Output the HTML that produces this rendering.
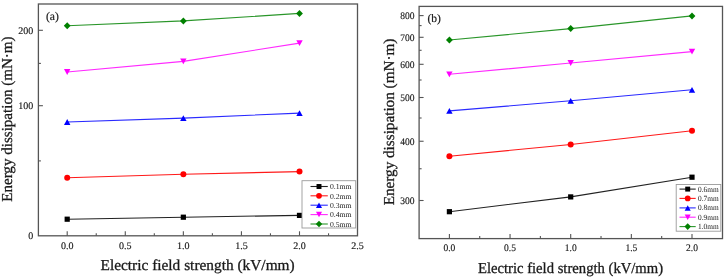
<!DOCTYPE html>
<html><head><meta charset="utf-8"><style>
html,body{margin:0;padding:0;background:#fff;}
body{width:725px;height:280px;overflow:hidden;}
svg{display:block;font-family:"Liberation Serif", serif;text-rendering:geometricPrecision;will-change:transform;}
</style></head><body>
<svg width="725" height="280" viewBox="0 0 725 280">
<rect width="725" height="280" fill="#fff"/>
<path d="M67.20 219.20L183.35 217.20L299.50 215.40" fill="none" stroke="#222222" stroke-width="1.1"/>
<rect x="64.60" y="216.60" width="5.20" height="5.20" fill="#000000"/>
<rect x="180.75" y="214.60" width="5.20" height="5.20" fill="#000000"/>
<rect x="296.90" y="212.80" width="5.20" height="5.20" fill="#000000"/>
<path d="M67.20 177.80L183.35 174.30L299.50 171.60" fill="none" stroke="#ff1a1a" stroke-width="1.1"/>
<circle cx="67.20" cy="177.80" r="3.00" fill="#ff0000"/>
<circle cx="183.35" cy="174.30" r="3.00" fill="#ff0000"/>
<circle cx="299.50" cy="171.60" r="3.00" fill="#ff0000"/>
<path d="M67.20 122.00L183.35 118.10L299.50 113.10" fill="none" stroke="#2a2aff" stroke-width="1.1"/>
<path d="M67.20 119.10L70.40 124.90L64.00 124.90Z" fill="#0000ff"/>
<path d="M183.35 115.20L186.55 121.00L180.15 121.00Z" fill="#0000ff"/>
<path d="M299.50 110.20L302.70 116.00L296.30 116.00Z" fill="#0000ff"/>
<path d="M67.20 72.00L183.35 61.40L299.50 43.10" fill="none" stroke="#ff2aff" stroke-width="1.1"/>
<path d="M67.20 74.90L70.40 69.10L64.00 69.10Z" fill="#ff00ff"/>
<path d="M183.35 64.30L186.55 58.50L180.15 58.50Z" fill="#ff00ff"/>
<path d="M299.50 46.00L302.70 40.20L296.30 40.20Z" fill="#ff00ff"/>
<path d="M67.20 25.80L183.35 20.90L299.50 13.40" fill="none" stroke="#2a962a" stroke-width="1.1"/>
<path d="M67.20 22.30L70.60 25.80L67.20 29.30L63.80 25.80Z" fill="#008000"/>
<path d="M183.35 17.40L186.75 20.90L183.35 24.40L179.95 20.90Z" fill="#008000"/>
<path d="M299.50 9.90L302.90 13.40L299.50 16.90L296.10 13.40Z" fill="#008000"/>
<rect x="38.4" y="4.0" width="319.1" height="231.8" fill="none" stroke="#555555" stroke-width="1.3"/>
<line x1="67.20" y1="235.8" x2="67.20" y2="231.3" stroke="#555555" stroke-width="1.1"/>
<line x1="96.24" y1="235.8" x2="96.24" y2="233.3" stroke="#555555" stroke-width="1.1"/>
<line x1="125.28" y1="235.8" x2="125.28" y2="231.3" stroke="#555555" stroke-width="1.1"/>
<line x1="154.31" y1="235.8" x2="154.31" y2="233.3" stroke="#555555" stroke-width="1.1"/>
<line x1="183.35" y1="235.8" x2="183.35" y2="231.3" stroke="#555555" stroke-width="1.1"/>
<line x1="212.39" y1="235.8" x2="212.39" y2="233.3" stroke="#555555" stroke-width="1.1"/>
<line x1="241.43" y1="235.8" x2="241.43" y2="231.3" stroke="#555555" stroke-width="1.1"/>
<line x1="270.46" y1="235.8" x2="270.46" y2="233.3" stroke="#555555" stroke-width="1.1"/>
<line x1="299.50" y1="235.8" x2="299.50" y2="231.3" stroke="#555555" stroke-width="1.1"/>
<line x1="328.54" y1="235.8" x2="328.54" y2="233.3" stroke="#555555" stroke-width="1.1"/>
<line x1="38.4" y1="30.30" x2="42.9" y2="30.30" stroke="#555555" stroke-width="1.1"/>
<line x1="38.4" y1="63.40" x2="40.9" y2="63.40" stroke="#555555" stroke-width="1.1"/>
<line x1="38.4" y1="105.70" x2="42.9" y2="105.70" stroke="#555555" stroke-width="1.1"/>
<line x1="38.4" y1="160.90" x2="40.9" y2="160.90" stroke="#555555" stroke-width="1.1"/>
<text x="67.20" y="248.9" font-size="10" text-anchor="middle" textLength="12.50" lengthAdjust="spacingAndGlyphs" fill="#1a1a1a" stroke="#1a1a1a" stroke-width="0.15">0.0</text>
<text x="125.28" y="248.9" font-size="10" text-anchor="middle" textLength="12.50" lengthAdjust="spacingAndGlyphs" fill="#1a1a1a" stroke="#1a1a1a" stroke-width="0.15">0.5</text>
<text x="183.35" y="248.9" font-size="10" text-anchor="middle" textLength="12.50" lengthAdjust="spacingAndGlyphs" fill="#1a1a1a" stroke="#1a1a1a" stroke-width="0.15">1.0</text>
<text x="241.43" y="248.9" font-size="10" text-anchor="middle" textLength="12.50" lengthAdjust="spacingAndGlyphs" fill="#1a1a1a" stroke="#1a1a1a" stroke-width="0.15">1.5</text>
<text x="299.50" y="248.9" font-size="10" text-anchor="middle" textLength="12.50" lengthAdjust="spacingAndGlyphs" fill="#1a1a1a" stroke="#1a1a1a" stroke-width="0.15">2.0</text>
<text x="357.57" y="248.9" font-size="10" text-anchor="middle" textLength="12.50" lengthAdjust="spacingAndGlyphs" fill="#1a1a1a" stroke="#1a1a1a" stroke-width="0.15">2.5</text>
<text x="33.2" y="33.70" font-size="10" text-anchor="end" textLength="15.00" lengthAdjust="spacingAndGlyphs" fill="#1a1a1a" stroke="#1a1a1a" stroke-width="0.15">200</text>
<text x="33.2" y="109.10" font-size="10" text-anchor="end" textLength="15.00" lengthAdjust="spacingAndGlyphs" fill="#1a1a1a" stroke="#1a1a1a" stroke-width="0.15">100</text>
<text x="33.2" y="238.90" font-size="10" text-anchor="end" textLength="5.00" lengthAdjust="spacingAndGlyphs" fill="#1a1a1a" stroke="#1a1a1a" stroke-width="0.15">0</text>
<text x="46.0" y="20.2" font-size="11.6" fill="#1a1a1a" stroke="#1a1a1a" stroke-width="0.2">(a)</text>
<text x="197.6" y="269.8" font-size="15.2" text-anchor="middle" textLength="194.1" lengthAdjust="spacingAndGlyphs" fill="#1a1a1a" stroke="#1a1a1a" stroke-width="0.3">Electric field strength (kV/mm)</text>
<text transform="translate(12.3 119.1) rotate(-90)" x="0" y="0" font-size="15.2" text-anchor="middle" textLength="165.4" lengthAdjust="spacingAndGlyphs" fill="#1a1a1a" stroke="#1a1a1a" stroke-width="0.3">Energy dissipation (mN&#183;m)</text>
<rect x="302.0" y="180.7" width="53.69999999999999" height="47.30000000000001" fill="#ffffff" stroke="#9a9a9a" stroke-width="0.9"/>
<line x1="310.5" y1="186.5" x2="327.8" y2="186.5" stroke="#222222" stroke-width="1.1"/>
<rect x="316.53" y="184.03" width="4.94" height="4.94" fill="#000000"/>
<text x="330.0" y="189.20" font-size="7.6" textLength="21.6" lengthAdjust="spacingAndGlyphs" fill="#1a1a1a">0.1mm</text>
<line x1="310.5" y1="195.8" x2="327.8" y2="195.8" stroke="#ff1a1a" stroke-width="1.1"/>
<circle cx="319.00" cy="195.80" r="2.85" fill="#ff0000"/>
<text x="330.0" y="198.50" font-size="7.6" textLength="21.6" lengthAdjust="spacingAndGlyphs" fill="#1a1a1a">0.2mm</text>
<line x1="310.5" y1="205.2" x2="327.8" y2="205.2" stroke="#2a2aff" stroke-width="1.1"/>
<path d="M319.00 202.44L322.04 207.95L315.96 207.95Z" fill="#0000ff"/>
<text x="330.0" y="207.90" font-size="7.6" textLength="21.6" lengthAdjust="spacingAndGlyphs" fill="#1a1a1a">0.3mm</text>
<line x1="310.5" y1="214.6" x2="327.8" y2="214.6" stroke="#ff2aff" stroke-width="1.1"/>
<path d="M319.00 217.35L322.04 211.84L315.96 211.84Z" fill="#ff00ff"/>
<text x="330.0" y="217.30" font-size="7.6" textLength="21.6" lengthAdjust="spacingAndGlyphs" fill="#1a1a1a">0.4mm</text>
<line x1="310.5" y1="224.0" x2="327.8" y2="224.0" stroke="#2a962a" stroke-width="1.1"/>
<path d="M319.00 220.68L322.23 224.00L319.00 227.32L315.77 224.00Z" fill="#008000"/>
<text x="330.0" y="226.70" font-size="7.6" textLength="21.6" lengthAdjust="spacingAndGlyphs" fill="#1a1a1a">0.5mm</text>
<path d="M449.40 211.70L570.70 196.90L692.00 177.20" fill="none" stroke="#222222" stroke-width="1.1"/>
<rect x="446.80" y="209.10" width="5.20" height="5.20" fill="#000000"/>
<rect x="568.10" y="194.30" width="5.20" height="5.20" fill="#000000"/>
<rect x="689.40" y="174.60" width="5.20" height="5.20" fill="#000000"/>
<path d="M449.40 156.20L570.70 144.50L692.00 130.80" fill="none" stroke="#ff1a1a" stroke-width="1.1"/>
<circle cx="449.40" cy="156.20" r="3.00" fill="#ff0000"/>
<circle cx="570.70" cy="144.50" r="3.00" fill="#ff0000"/>
<circle cx="692.00" cy="130.80" r="3.00" fill="#ff0000"/>
<path d="M449.40 110.90L570.70 100.80L692.00 89.80" fill="none" stroke="#2a2aff" stroke-width="1.1"/>
<path d="M449.40 108.00L452.60 113.80L446.20 113.80Z" fill="#0000ff"/>
<path d="M570.70 97.90L573.90 103.70L567.50 103.70Z" fill="#0000ff"/>
<path d="M692.00 86.90L695.20 92.70L688.80 92.70Z" fill="#0000ff"/>
<path d="M449.40 74.30L570.70 63.00L692.00 51.60" fill="none" stroke="#ff2aff" stroke-width="1.1"/>
<path d="M449.40 77.20L452.60 71.40L446.20 71.40Z" fill="#ff00ff"/>
<path d="M570.70 65.90L573.90 60.10L567.50 60.10Z" fill="#ff00ff"/>
<path d="M692.00 54.50L695.20 48.70L688.80 48.70Z" fill="#ff00ff"/>
<path d="M449.40 40.05L570.70 28.60L692.00 15.90" fill="none" stroke="#2a962a" stroke-width="1.1"/>
<path d="M449.40 36.55L452.80 40.05L449.40 43.55L446.00 40.05Z" fill="#008000"/>
<path d="M570.70 25.10L574.10 28.60L570.70 32.10L567.30 28.60Z" fill="#008000"/>
<path d="M692.00 12.40L695.40 15.90L692.00 19.40L688.60 15.90Z" fill="#008000"/>
<rect x="419.1" y="6.4" width="303.4" height="232.2" fill="none" stroke="#555555" stroke-width="1.3"/>
<line x1="449.40" y1="238.6" x2="449.40" y2="234.1" stroke="#555555" stroke-width="1.1"/>
<line x1="479.72" y1="238.6" x2="479.72" y2="236.1" stroke="#555555" stroke-width="1.1"/>
<line x1="510.05" y1="238.6" x2="510.05" y2="234.1" stroke="#555555" stroke-width="1.1"/>
<line x1="540.38" y1="238.6" x2="540.38" y2="236.1" stroke="#555555" stroke-width="1.1"/>
<line x1="570.70" y1="238.6" x2="570.70" y2="234.1" stroke="#555555" stroke-width="1.1"/>
<line x1="601.02" y1="238.6" x2="601.02" y2="236.1" stroke="#555555" stroke-width="1.1"/>
<line x1="631.35" y1="238.6" x2="631.35" y2="234.1" stroke="#555555" stroke-width="1.1"/>
<line x1="661.67" y1="238.6" x2="661.67" y2="236.1" stroke="#555555" stroke-width="1.1"/>
<line x1="692.00" y1="238.6" x2="692.00" y2="234.1" stroke="#555555" stroke-width="1.1"/>
<line x1="419.1" y1="15.60" x2="423.6" y2="15.60" stroke="#555555" stroke-width="1.1"/>
<line x1="419.1" y1="25.60" x2="421.6" y2="25.60" stroke="#555555" stroke-width="1.1"/>
<line x1="419.1" y1="37.30" x2="423.6" y2="37.30" stroke="#555555" stroke-width="1.1"/>
<line x1="419.1" y1="50.30" x2="421.6" y2="50.30" stroke="#555555" stroke-width="1.1"/>
<line x1="419.1" y1="64.30" x2="423.6" y2="64.30" stroke="#555555" stroke-width="1.1"/>
<line x1="419.1" y1="80.00" x2="421.6" y2="80.00" stroke="#555555" stroke-width="1.1"/>
<line x1="419.1" y1="97.50" x2="423.6" y2="97.50" stroke="#555555" stroke-width="1.1"/>
<line x1="419.1" y1="118.00" x2="421.6" y2="118.00" stroke="#555555" stroke-width="1.1"/>
<line x1="419.1" y1="141.25" x2="423.6" y2="141.25" stroke="#555555" stroke-width="1.1"/>
<line x1="419.1" y1="168.75" x2="421.6" y2="168.75" stroke="#555555" stroke-width="1.1"/>
<line x1="419.1" y1="200.50" x2="423.6" y2="200.50" stroke="#555555" stroke-width="1.1"/>
<text x="449.40" y="251.0" font-size="10" text-anchor="middle" textLength="11.88" lengthAdjust="spacingAndGlyphs" fill="#1a1a1a" stroke="#1a1a1a" stroke-width="0.15">0.0</text>
<text x="510.05" y="251.0" font-size="10" text-anchor="middle" textLength="11.88" lengthAdjust="spacingAndGlyphs" fill="#1a1a1a" stroke="#1a1a1a" stroke-width="0.15">0.5</text>
<text x="570.70" y="251.0" font-size="10" text-anchor="middle" textLength="11.88" lengthAdjust="spacingAndGlyphs" fill="#1a1a1a" stroke="#1a1a1a" stroke-width="0.15">1.0</text>
<text x="631.35" y="251.0" font-size="10" text-anchor="middle" textLength="11.88" lengthAdjust="spacingAndGlyphs" fill="#1a1a1a" stroke="#1a1a1a" stroke-width="0.15">1.5</text>
<text x="692.00" y="251.0" font-size="10" text-anchor="middle" textLength="11.88" lengthAdjust="spacingAndGlyphs" fill="#1a1a1a" stroke="#1a1a1a" stroke-width="0.15">2.0</text>
<text x="414.5" y="19.00" font-size="10" text-anchor="end" textLength="14.25" lengthAdjust="spacingAndGlyphs" fill="#1a1a1a" stroke="#1a1a1a" stroke-width="0.15">800</text>
<text x="414.5" y="40.70" font-size="10" text-anchor="end" textLength="14.25" lengthAdjust="spacingAndGlyphs" fill="#1a1a1a" stroke="#1a1a1a" stroke-width="0.15">700</text>
<text x="414.5" y="67.70" font-size="10" text-anchor="end" textLength="14.25" lengthAdjust="spacingAndGlyphs" fill="#1a1a1a" stroke="#1a1a1a" stroke-width="0.15">600</text>
<text x="414.5" y="100.90" font-size="10" text-anchor="end" textLength="14.25" lengthAdjust="spacingAndGlyphs" fill="#1a1a1a" stroke="#1a1a1a" stroke-width="0.15">500</text>
<text x="414.5" y="144.65" font-size="10" text-anchor="end" textLength="14.25" lengthAdjust="spacingAndGlyphs" fill="#1a1a1a" stroke="#1a1a1a" stroke-width="0.15">400</text>
<text x="414.5" y="203.90" font-size="10" text-anchor="end" textLength="14.25" lengthAdjust="spacingAndGlyphs" fill="#1a1a1a" stroke="#1a1a1a" stroke-width="0.15">300</text>
<text x="427.4" y="22.1" font-size="11.5" fill="#1a1a1a" stroke="#1a1a1a" stroke-width="0.2">(b)</text>
<text x="570.5" y="272.8" font-size="15.2" text-anchor="middle" textLength="185.1" lengthAdjust="spacingAndGlyphs" fill="#1a1a1a" stroke="#1a1a1a" stroke-width="0.3">Electric field strength (kV/mm)</text>
<text transform="translate(394.3 122.0) rotate(-90)" x="0" y="0" font-size="15.2" text-anchor="middle" textLength="166.7" lengthAdjust="spacingAndGlyphs" fill="#1a1a1a" stroke="#1a1a1a" stroke-width="0.3">Energy dissipation (mN&#183;m)</text>
<rect x="676.2" y="184.5" width="44.59999999999991" height="46.69999999999999" fill="#ffffff" stroke="#9a9a9a" stroke-width="0.9"/>
<line x1="679.5" y1="189.1" x2="695.7" y2="189.1" stroke="#222222" stroke-width="1.1"/>
<rect x="685.23" y="186.63" width="4.94" height="4.94" fill="#000000"/>
<text x="698.0" y="191.60" font-size="7.9" textLength="20.6" lengthAdjust="spacingAndGlyphs" fill="#1a1a1a">0.6mm</text>
<line x1="679.5" y1="198.4" x2="695.7" y2="198.4" stroke="#ff1a1a" stroke-width="1.1"/>
<circle cx="687.70" cy="198.40" r="2.85" fill="#ff0000"/>
<text x="698.0" y="200.90" font-size="7.9" textLength="20.6" lengthAdjust="spacingAndGlyphs" fill="#1a1a1a">0.7mm</text>
<line x1="679.5" y1="207.9" x2="695.7" y2="207.9" stroke="#2a2aff" stroke-width="1.1"/>
<path d="M687.70 205.15L690.74 210.66L684.66 210.66Z" fill="#0000ff"/>
<text x="698.0" y="210.40" font-size="7.9" textLength="20.6" lengthAdjust="spacingAndGlyphs" fill="#1a1a1a">0.8mm</text>
<line x1="679.5" y1="217.2" x2="695.7" y2="217.2" stroke="#ff2aff" stroke-width="1.1"/>
<path d="M687.70 219.95L690.74 214.44L684.66 214.44Z" fill="#ff00ff"/>
<text x="698.0" y="219.70" font-size="7.9" textLength="20.6" lengthAdjust="spacingAndGlyphs" fill="#1a1a1a">0.9mm</text>
<line x1="679.5" y1="226.6" x2="695.7" y2="226.6" stroke="#2a962a" stroke-width="1.1"/>
<path d="M687.70 223.28L690.93 226.60L687.70 229.92L684.47 226.60Z" fill="#008000"/>
<text x="698.0" y="229.10" font-size="7.9" textLength="20.6" lengthAdjust="spacingAndGlyphs" fill="#1a1a1a">1.0mm</text>
</svg>
</body></html>
